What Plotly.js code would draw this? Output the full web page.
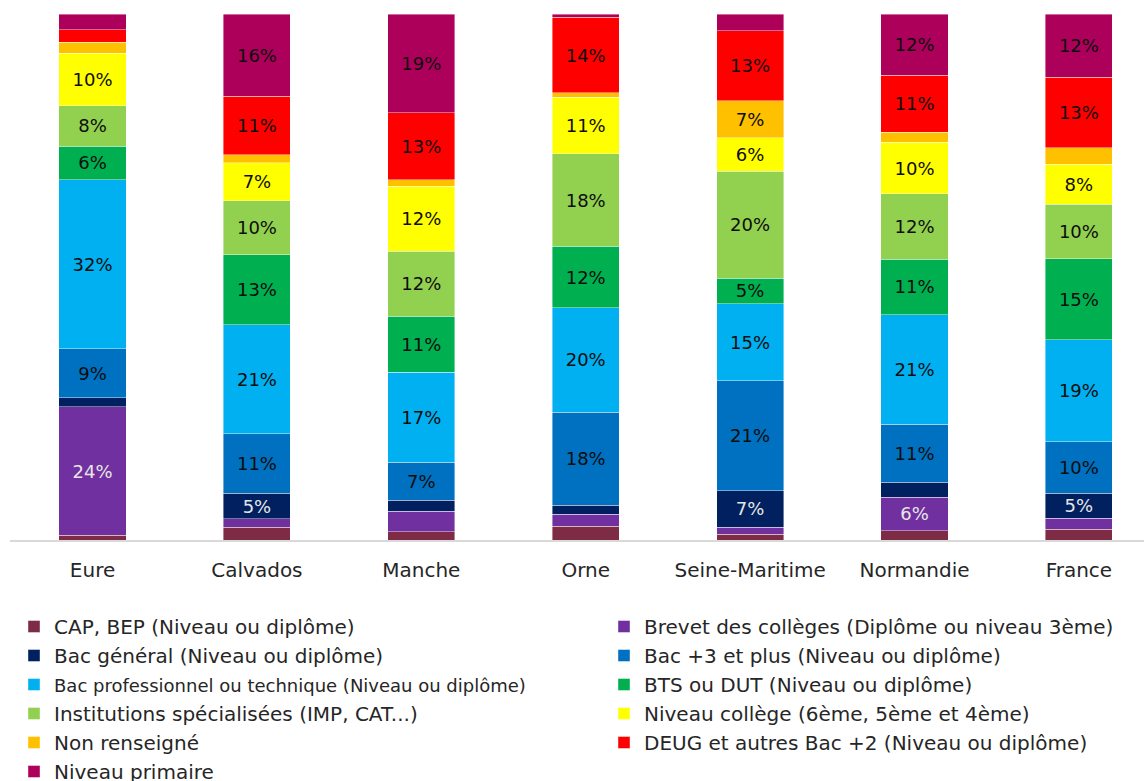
<!DOCTYPE html>
<html>
<head>
<meta charset="utf-8">
<script src="https://cdn.plot.ly/plotly-3.0.1.min.js"></script>
<style>
  html, body { margin: 0; padding: 0; background: #ffffff; }
  #chart { width: 1144px; height: 781px; }
</style>
</head>
<body>
<div id="chart"></div>
<script>
// Territories compared
const territoires = ['Eure', 'Calvados', 'Manche', 'Orne', 'Seine-Maritime', 'Normandie', 'France'];

// Share of each education level (%), one value per territory, stacked bottom to top
const capBep        = [0.9, 2.4, 1.6, 2.6, 1.1, 1.8, 2.0];
const brevet        = [24.4, 1.6, 3.9, 2.3, 1.3, 6.3, 2.1];
const bacGeneral    = [1.7, 4.9, 2.1, 1.7, 7.0, 2.9, 4.8];
const bac3          = [9.4, 11.3, 7.2, 17.7, 20.9, 11.0, 9.8];
const bacPro        = [32.1, 20.7, 17.1, 19.9, 14.6, 20.8, 19.4];
const btsDut        = [6.4, 13.3, 10.6, 11.6, 4.9, 10.6, 15.4];
const institutions  = [7.7, 10.3, 12.4, 17.6, 20.3, 12.4, 10.3];
const niveauCollege = [9.9, 7.2, 12.4, 10.8, 6.4, 9.8, 7.6];
const nonRenseigne  = [2.1, 1.5, 1.2, 0.8, 7.0, 1.9, 3.2];
const deug          = [2.4, 11.2, 12.7, 14.4, 13.3, 10.9, 13.4];
const primaire      = [3.0, 15.6, 18.8, 0.6, 3.2, 11.6, 12.0];

// Series names
const nomsSeries = [
  'CAP, BEP (Niveau ou diplôme)',
  'Brevet des collèges (Diplôme ou niveau 3ème)',
  'Bac général (Niveau ou diplôme)',
  'Bac +3 et plus (Niveau ou diplôme)',
  'Bac professionnel ou technique (Niveau ou diplôme)',
  'BTS ou DUT (Niveau ou diplôme)',
  'Institutions spécialisées (IMP, CAT...)',
  'Niveau collège (6ème, 5ème et 4ème)',
  'Non renseigné',
  'DEUG et autres Bac +2 (Niveau ou diplôme)',
  'Niveau primaire'
];

const valeurs = [capBep, brevet, bacGeneral, bac3, bacPro, btsDut, institutions,
                 niveauCollege, nonRenseigne, deug, primaire];

const couleurs = ['#7E2B45', '#7030A0', '#002060', '#0070C0', '#00B0F0', '#00B050',
                  '#92D050', '#FFFF00', '#FFC000', '#FF0000', '#AD005B'];

// Label colour: light on the dark series, dark elsewhere
const couleursTexte = ['#0d0d0d', '#e6e6e6', '#e6e6e6', '#0d0d0d', '#0d0d0d', '#0d0d0d',
                       '#0d0d0d', '#0d0d0d', '#0d0d0d', '#0d0d0d', '#0d0d0d'];

const FONT = 'DejaVu Sans, sans-serif';

// Left legend column takes the even-indexed series, right column the odd ones
const traces = valeurs.map((vals, i) => {
  let nom = nomsSeries[i];
  if (i === 4) nom = '<span style="font-size:18px">' + nom + '</span>';
  return {
    type: 'bar',
    name: nom,
    x: territoires,
    y: vals,
    legend: (i % 2 === 0) ? 'legend' : 'legend2',
    marker: { color: couleurs[i], line: { color: 'rgba(255,255,255,0.55)', width: 0.75 } },
    text: vals.map(v => v >= 4.5 ? Math.round(v) + '%' : ''),
    textposition: 'inside',
    insidetextanchor: 'middle',
    constraintext: 'none',
    textangle: 0,
    textfont: { family: FONT, size: 18, color: couleursTexte[i] },
    hoverinfo: 'x+y+name'
  };
});

const layout = {
  width: 1144,
  height: 781,
  margin: { l: 10, r: 0, t: 14, b: 241, autoexpand: false },
  paper_bgcolor: '#ffffff',
  plot_bgcolor: '#ffffff',
  barmode: 'stack',
  barnorm: 'percent',
  bargap: 0.592,
  font: { family: FONT, color: '#262626', size: 20 },
  xaxis: {
    type: 'category',
    range: [-0.502, 6.396],
    automargin: false,
    tickangle: 0,
    showline: true,
    linecolor: '#d9d9d9',
    linewidth: 2,
    ticks: '',
    showgrid: false,
    zeroline: false,
    ticklabelstandoff: 11,
    tickfont: { family: FONT, size: 20, color: '#262626' },
    fixedrange: true
  },
  yaxis: {
    range: [0, 100],
    visible: false,
    automargin: false,
    showgrid: false,
    zeroline: false,
    fixedrange: true
  },
  showlegend: true,
  legend: {
    orientation: 'v',
    traceorder: 'normal',
    xref: 'container', yref: 'container',
    x: 14 / 1144, xanchor: 'left',
    y: 1 - 607 / 781, yanchor: 'top',
    bgcolor: 'rgba(0,0,0,0)',
    font: { family: FONT, size: 20, color: '#262626' },
    tracegroupgap: 0
  },
  legend2: {
    orientation: 'v',
    traceorder: 'normal',
    xref: 'container', yref: 'container',
    x: 604 / 1144, xanchor: 'left',
    y: 1 - 607 / 781, yanchor: 'top',
    bgcolor: 'rgba(0,0,0,0)',
    font: { family: FONT, size: 20, color: '#262626' },
    tracegroupgap: 0
  }
};

Plotly.newPlot('chart', traces, layout, { displayModeBar: false, staticPlot: true });
</script>
</body>
</html>
